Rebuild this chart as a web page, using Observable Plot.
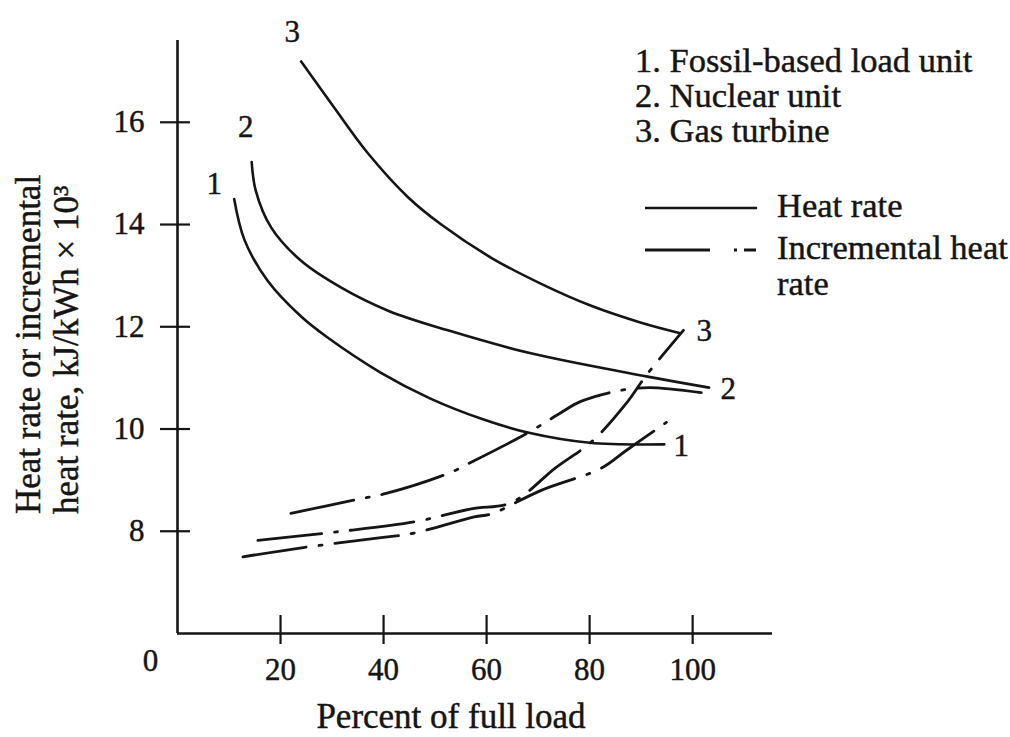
<!DOCTYPE html>
<html><head><meta charset="utf-8">
<script src="https://cdn.jsdelivr.net/npm/d3@7"></script>
<script src="https://cdn.jsdelivr.net/npm/@observablehq/plot@0.6"></script>
<style>
html,body{margin:0;padding:0;background:#fff;}
#wrap{position:relative;width:1010px;height:737px;}
#wrap svg.legend{position:absolute;left:0;top:0;pointer-events:none;}
#wrap text{stroke:#151515;stroke-width:0.45px;}
</style></head><body><div id="wrap"></div>
<script>
// Heat rate (solid) — percent of full load vs kJ/kWh x 10^3
const hr1Load = [11, 13, 17.5, 24, 29, 39.5, 49, 59, 68, 80, 94.5];
const hr1Rate = [14.5, 13.7, 12.9, 12.2, 11.8, 11.1, 10.6, 10.2, 9.93, 9.73, 9.7];
const hr2Load = [14.4, 15.2, 18.2, 24, 31.7, 41, 52.5, 68.6, 91, 103.2];
const hr2Rate = [15.22, 14.66, 13.94, 13.29, 12.77, 12.31, 11.93, 11.48, 11.03, 10.81];
const hr3Load = [24, 30.4, 37, 44.8, 51.2, 60.9, 70.6, 80.3, 90, 97.4];
const hr3Rate = [17.19, 16.29, 15.39, 14.53, 14.0, 13.35, 12.84, 12.41, 12.08, 11.88];
// Incremental heat rate (dash-dot)
const incALoad = [22, 34.7, 40.5, 52.5, 57.6, 68.1, 74.1, 78.3, 85.7, 91.6, 103.2];
const incARate = [8.35, 8.62, 8.74, 9.13, 9.38, 9.93, 10.30, 10.54, 10.75, 10.81, 10.69];
const incBLoad = [15.6, 31, 46.3, 57, 64.8, 73.5, 80.6, 87.1, 91, 98.2];
const incBRate = [7.82, 7.99, 8.19, 8.44, 8.56, 9.25, 9.77, 10.5, 11.05, 11.93];
const incCLoad = [12.7, 24.4, 39.9, 45.7, 57.6, 60.9, 70.6, 82.2, 87.1, 94.9];
const incCRate = [7.5, 7.68, 7.88, 7.96, 8.28, 8.34, 8.8, 9.23, 9.58, 10.13];

const xTicks = [20, 40, 60, 80, 100];
const yTicks = [8, 10, 12, 14, 16];
const unitNames = ["1. Fossil-based load unit", "2. Nuclear unit", "3. Gas turbine"];
const styleNames = ["Heat rate", "Incremental heat", "rate"];
const xTitle = "Percent of full load";
const yTitle = "Heat rate or incremental\nheat rate, kJ/kWh × 10³";

const rows = (xs, ys) => xs.map((x, i) => ({x, y: ys[i]}));
const hr1 = rows(hr1Load, hr1Rate), hr2 = rows(hr2Load, hr2Rate), hr3 = rows(hr3Load, hr3Rate);
const incA = rows(incALoad, incARate), incB = rows(incBLoad, incBRate), incC = rows(incCLoad, incCRate);

const font = "'Liberation Serif', 'Times New Roman', serif";
const ink = "#151515";
const solid = {x: "x", y: "y", curve: "catmull-rom", stroke: ink, strokeWidth: 2.6};
const dashdot = {x: "x", y: "y", curve: "catmull-rom", stroke: ink, strokeWidth: 2.8, strokeDasharray: "64,13,3,13"};
const lab = (data, sel, t, dx, dy) => Plot.text(data, sel({x: "x", y: "y", text: () => t, dx, dy, fontSize: 31, fill: ink}));

const chart = Plot.plot({
  width: 1010, height: 737,
  marginLeft: 177, marginRight: 238, marginTop: 40, marginBottom: 104,
  x: {domain: [0, 115.5]},
  y: {domain: [6, 17.6]},
  style: {fontFamily: font, fontSize: "31px", color: ink, background: "#fff", overflow: "visible"},
  marks: [
    Plot.ruleX([0], {stroke: ink, strokeWidth: 2.6}),
    Plot.ruleY([6], {stroke: ink, strokeWidth: 2.6}),
    Plot.axisY({ticks: yTicks, tickSize: 30, dx: 13, tickPadding: 16, label: null, fontSize: 31, strokeWidth: 2.2, stroke: ink, fill: ink, strokeOpacity: 1}),
    Plot.axisX({ticks: xTicks, tickSize: 29, dy: -18, tickPadding: 13, label: null, fontSize: 31, strokeWidth: 2.2, stroke: ink, fill: ink, strokeOpacity: 1}),
    Plot.text(["0"], {frameAnchor: "bottom-left", textAnchor: "middle", lineAnchor: "middle", dx: -27, dy: 28, fontSize: 31, fill: ink}),
    Plot.text([xTitle], {frameAnchor: "bottom", textAnchor: "middle", lineAnchor: "middle", dx: -24, dy: 83, fontSize: 35, fill: ink}),
    Plot.text([yTitle], {frameAnchor: "left", rotate: -90, textAnchor: "start", lineAnchor: "middle", dx: -131, dy: 177, lineHeight: 1.08, fontSize: 35, fill: ink}),
    Plot.line(hr1, solid),
    Plot.line(hr2, solid),
    Plot.line(hr3, solid),
    Plot.line(incA, dashdot),
    Plot.line(incB, dashdot),
    Plot.line(incC, dashdot),
    lab(hr1, Plot.selectFirst, "1", -20, -15),
    lab(hr2, Plot.selectFirst, "2", -6, -35),
    lab(hr3, Plot.selectFirst, "3", -9, -29),
    lab(hr1, Plot.selectLast, "1", 17, 2),
    lab(hr2, Plot.selectLast, "2", 19, 1),
    lab(hr3, Plot.selectLast, "3", 25, -2)
  ]
});
const wrap = document.getElementById("wrap");
wrap.appendChild(chart);

// Legend overlay
const leg = d3.create("svg").attr("class", "legend").attr("width", 1010).attr("height", 737)
  .style("font-family", font).style("font-size", "34.5px").attr("fill", ink);
unitNames.forEach((t, i) => leg.append("text").attr("x", 635).attr("y", 72 + i * 35).text(t));
leg.append("line").attr("x1", 645).attr("x2", 757).attr("y1", 208).attr("y2", 208).attr("stroke", ink).attr("stroke-width", 2.5);
leg.append("line").attr("x1", 645).attr("x2", 756).attr("y1", 250).attr("y2", 250).attr("stroke", ink).attr("stroke-width", 2.8).attr("stroke-dasharray", "65,24,3,7,12");
leg.append("text").attr("x", 777).attr("y", 217).text(styleNames[0]);
leg.append("text").attr("x", 777).attr("y", 259).text(styleNames[1]);
leg.append("text").attr("x", 777).attr("y", 295).text(styleNames[2]);
wrap.appendChild(leg.node());
</script></body></html>
